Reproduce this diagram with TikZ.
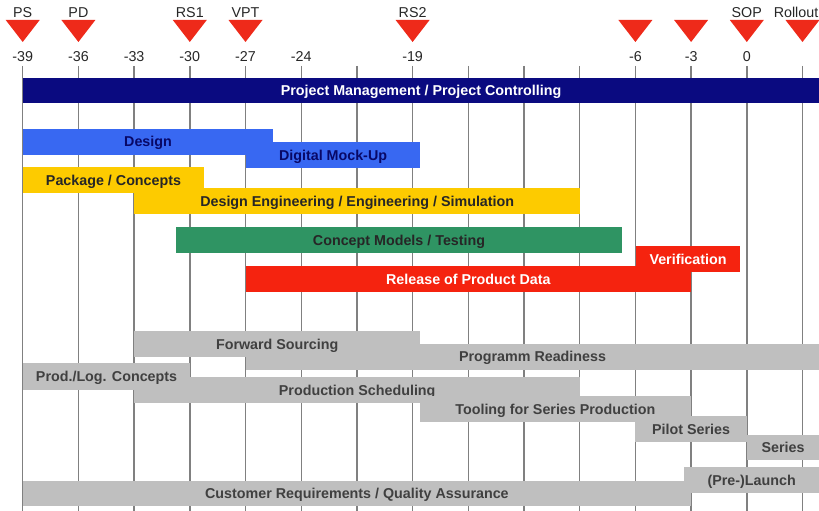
\documentclass[tikz,border=0pt]{standalone}
\usepackage{fontspec}
\setmainfont{Liberation Sans}
\definecolor{pmnavy}{HTML}{0A0A80}
\definecolor{dsblue}{HTML}{3868F2}
\definecolor{pkyellow}{HTML}{FDCB00}
\definecolor{cmgreen}{HTML}{2F9463}
\definecolor{rlred}{HTML}{F5230F}
\definecolor{prgray}{HTML}{BFBFBF}
\definecolor{gridgray}{HTML}{808080}
\definecolor{msred}{HTML}{EE2A1A}
\begin{document}
\begin{tikzpicture}[x=1pt,y=-1pt,
    bar/.style={fill=#1, minimum height=26pt, inner sep=0pt, anchor=north west,
      font=\fontsize{14.3}{16}\selectfont\bfseries, text height=10.3pt, text depth=0pt},
    graybar/.style={bar=prgray, text=black!75},
    gridline/.style={gridgray, line width=1.4pt},
    milestone/.style={fill=msred},
    mslabel/.style={anchor=base, inner sep=0pt, font=\fontsize{14.3}{16}\selectfont, text=black!85}]
    \useasboundingbox (0,0) rectangle (819,511);
    %% month grid
    \foreach \i in {0,...,14}
        \draw[gridline] (22.7+55.7*\i,66) -- (22.7+55.7*\i,511);
    %% month numbers
    \foreach \i/\m in {0/-39,1/-36,2/-33,3/-30,4/-27,5/-24,7/-19,11/-6,12/-3,13/0}
        \node[mslabel] (tick\i) at (22.7+55.7*\i,62) {\m};
    %% milestones
    \foreach \i/\m in {0/PS,1/PD,3/RS1,4/VPT,7/RS2,11/,12/,13/SOP} {
        \fill[milestone] (22.7+55.7*\i-17,20) -- (22.7+55.7*\i+17,20) -- (22.7+55.7*\i,42) -- cycle;
        \node[mslabel] (ms\i) at (22.7+55.7*\i,18) {\m};
    }
    \fill[milestone] (785.5,20) -- (819.5,20) -- (802.5,42) -- cycle;
    \node[mslabel, anchor=base east] (ms14) at (818.5,18) {Rollout};
    %% project management
    \node[bar=pmnavy, text=white, minimum height=25pt, minimum width=796.3pt] (pm) at (22.7,77.5) {Project Management / Project Controlling};
    %% design
    \node[bar=dsblue, text=pmnavy!80!black, minimum width=174.3pt] (dmu) at (245.7,142) {Digital Mock-Up};
    \node[bar=dsblue, text=pmnavy!80!black, minimum width=250.3pt] (design) at (22.7,128.3) {Design};
    %% engineering
    \node[bar=pkyellow, text=black!85, minimum width=446pt] (deng) at (134,188) {Design Engineering / Engineering / Simulation};
    \node[bar=pkyellow, text=black!85, minimum width=181.3pt] (package) at (22.7,166.7) {Package / Concepts};
    \node[bar=cmgreen, text=black!85, minimum width=445.7pt] (concept) at (176,226.7) {Concept Models / Testing};
    %% release
    \node[bar=rlred, text=white, minimum width=104.3pt] (verif) at (635.7,246) {Verification};
    \node[bar=rlred, text=white, minimum width=445pt] (release) at (245.7,265.7) {Release of Product Data};
    %% production
    \node[graybar, minimum width=573.3pt] (readiness) at (245.7,343.3) {Programm Readiness};
    \node[graybar, minimum width=286pt] (sourcing) at (134,331) {Forward Sourcing};
    \node[graybar, minimum width=446pt] (scheduling) at (134,376.7) {Production Scheduling};
    \node[graybar, minimum width=167.3pt, minimum height=27pt] (prodlog) at (22.7,362.7) {Prod./Log. Concepts};
    \node[graybar, minimum width=271.7pt] (tooling) at (419.3,396) {Tooling for Series Production};
    \node[graybar, minimum width=111.7pt] (pilot) at (635,415.7) {Pilot Series};
    \node[graybar, minimum width=72.3pt, minimum height=25pt] (series) at (746.7,435) {Series};
    %% launch
    \node[graybar, minimum width=668pt, minimum height=25pt] (customer) at (22.7,481) {Customer Requirements / Quality Assurance};
    \node[graybar, minimum width=135pt] (launch) at (684,466.7) {(Pre-)Launch};
\end{tikzpicture}
\end{document}
